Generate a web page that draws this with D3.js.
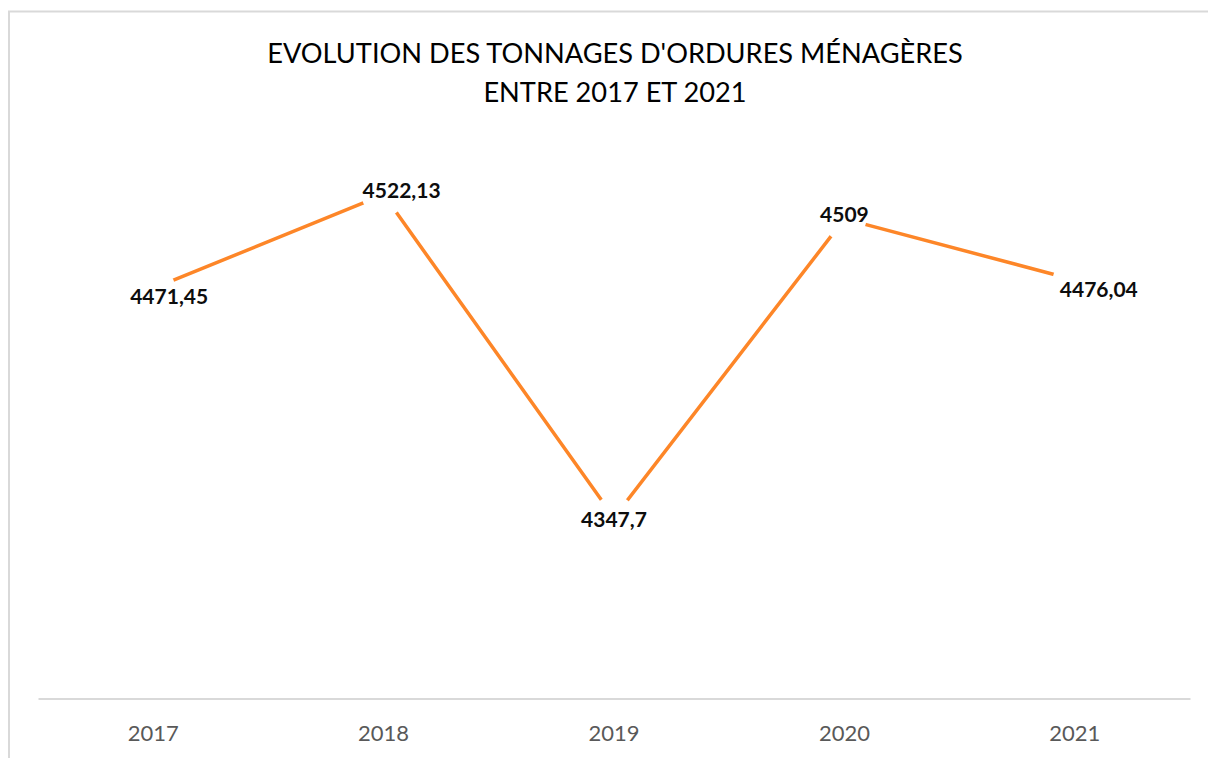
<!DOCTYPE html>
<html><head><meta charset="utf-8">
<script src="https://cdn.jsdelivr.net/npm/d3@7"></script>
<style>body{margin:0;background:#fff}svg{display:block}</style>
</head><body>
<svg id="c" width="1208" height="758"></svg>
<script>
const years = ["2017","2018","2019","2020","2021"];
const tonnages = [4471.45, 4522.13, 4347.7, 4509, 4476.04];
const valueLabels = ["4471,45","4522,13","4347,7","4509","4476,04"];
const titleLines = ["EVOLUTION DES TONNAGES D'ORDURES MÉNAGÈRES","ENTRE 2017 ET 2021"];
const yDomain = [4250, 4550];

// label placement tweaks (layout, not data)
const labelDx = [16, 18, 0, 0, 24];
const labelDy = [7.5, -4.5, 2, -4, 9.5];

const svg = d3.select("#c");
const font = "Lato, 'Open Sans', sans-serif";

// chart frame
svg.append("rect").attr("x", 9).attr("y", 11.5).attr("width", 1400).attr("height", 1000)
  .attr("fill", "#fff").attr("stroke", "#d9d9d9").attr("stroke-width", 2);

const x = d3.scaleBand().domain(years).range([38, 1190]);
const y = d3.scaleLinear().domain(yDomain).range([698.5, 143]);

// title
svg.append("g").selectAll("text").data(titleLines).join("text")
  .attr("x", 615).attr("y", (d, i) => 63 + i * 39)
  .attr("text-anchor", "middle").attr("font-family", font).attr("font-size", 27.2)
  .attr("fill", "#000").text(d => d);

// x axis
const xAxis = svg.append("g").attr("transform", "translate(0,698.5)")
  .call(d3.axisBottom(x).tickSize(0).tickPadding(0));
xAxis.select(".domain").attr("stroke", "#d9d9d9").attr("stroke-width", 2);
xAxis.selectAll(".tick text").attr("font-family", font).attr("font-size", 22)
  .attr("fill", "#595959").attr("dy", 0).attr("y", 42);

const cx = d => x(d) + x.bandwidth() / 2;
const pts = years.map((yr, i) => [cx(yr), y(tonnages[i])]);

// line
svg.append("path").datum(pts)
  .attr("d", d3.line())
  .attr("fill", "none").attr("stroke", "#fd8628").attr("stroke-width", 3.5)
  .attr("stroke-linejoin", "round");

// white knock-outs around points (label area)
svg.append("g").selectAll("circle").data(pts).join("circle")
  .attr("cx", d => d[0]).attr("cy", d => d[1]).attr("r", 22).attr("fill", "#fff");

// labels
svg.append("g").selectAll("text").data(valueLabels).join("text")
  .attr("x", (d, i) => pts[i][0] + labelDx[i])
  .attr("y", (d, i) => pts[i][1] + labelDy[i])
  .attr("dy", "0.36em")
  .attr("text-anchor", "middle").attr("font-family", font).attr("font-weight", "bold")
  .attr("font-size", 21).attr("fill", "#0d0d0d").text(d => d);
</script>
</body></html>
